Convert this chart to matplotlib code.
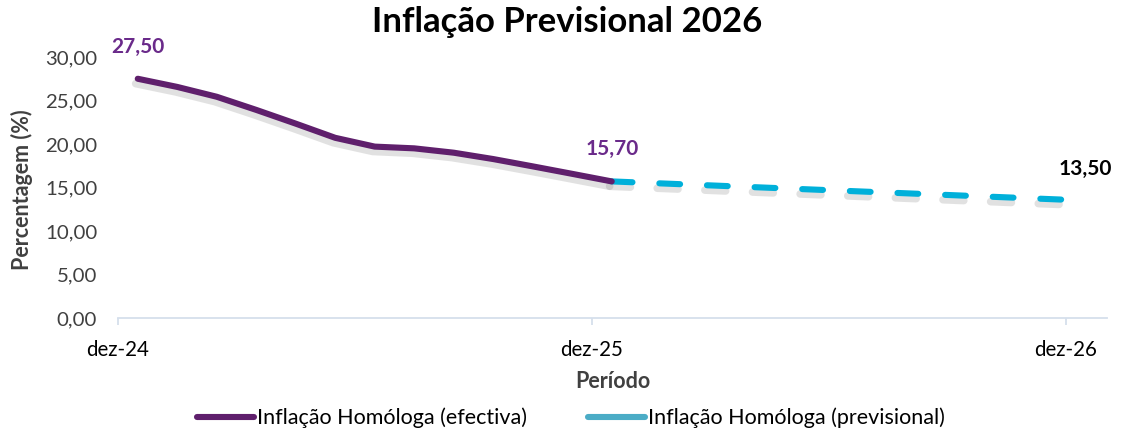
import matplotlib
matplotlib.use("Agg")
import matplotlib.pyplot as plt
import matplotlib.patheffects as pe

plt.rcParams['font.family'] = ['Lato', 'DejaVu Sans']

# Data (months since dez-24; points at mid-month positions)
tick_pos = [0, 12, 24]
tick_labels = ['dez-24', 'dez-25', 'dez-26']
eff_x = [0.5, 1.5, 2.5, 3.5, 4.5, 5.5, 6.5, 7.5, 8.5, 9.5, 10.5, 11.5, 12.5]
eff_y = [27.50, 26.56, 25.43, 23.92, 22.34, 20.71, 19.70, 19.50, 19.00, 18.27, 17.43, 16.57, 15.70]
prev_x = [12.5, 24.5]
prev_y = [15.70, 13.50]
yticks = [0, 5, 10, 15, 20, 25, 30]

purple = '#5F1F6C'
label_purple = '#6A2A8A'
cyan = '#00B0DA'
cyan_leg = '#4BACC6'

fig = plt.figure(figsize=(11.27, 4.34), dpi=100)
ax = fig.add_axes([118/1127, 1-318/434, (1107-118)/1127, (318-57)/434])

shadow = [pe.SimpleLineShadow(offset=(-1.5, -3.5), shadow_color='#7a7a7a', alpha=0.22, rho=1.0,
                              linewidth=5.5),
          pe.Normal()]

ax.plot(eff_x, eff_y, color=purple, lw=4.4, solid_capstyle='round', solid_joinstyle='round',
        path_effects=shadow, zorder=3, label='Inflação Homóloga (efectiva)')
ax.plot(prev_x, prev_y, color=cyan, lw=4.4, linestyle=(0, (3.4, 4.4)), dash_capstyle='round',
        path_effects=shadow, zorder=2, label='Inflação Homóloga (previsional)')

def lab(x, y, t, c):
    ax.annotate(t, (x, y), xytext=(0, 23), textcoords='offset points', ha='center', va='center',
                fontsize=15, fontweight='bold', color=c, annotation_clip=False)

lab(eff_x[0], eff_y[0], '27,50', label_purple)
lab(eff_x[-1], eff_y[-1], '15,70', label_purple)
lab(prev_x[-1], prev_y[-1], '13,50', 'black')

ax.set_xlim(0, 25.04)
ax.set_ylim(0, 30)
ax.set_yticks(yticks)
ax.set_yticklabels([f'{v:.2f}'.replace('.', ',') for v in yticks], fontsize=14.7, color='#404040')
ax.set_xticks(tick_pos)
ax.set_xticklabels(tick_labels, fontsize=14.8, color='black')
for s in ['top', 'right', 'left']:
    ax.spines[s].set_visible(False)
ax.spines['bottom'].set_color('#D5DFEC')
ax.spines['bottom'].set_linewidth(1.3)
ax.tick_params(axis='y', length=0, pad=15)
ax.tick_params(axis='x', length=5, width=1.3, color='#D5DFEC', pad=11)

ax.set_xlabel('Período', fontsize=15.5, fontweight='bold', color='#404040', labelpad=8)
fig.text(22/1127, 1-190/434, 'Percentagem (%)', rotation=90, fontsize=15.5, fontweight='bold',
         color='#404040', ha='center', va='center')

fig.text(567/1127, 1-22/434, 'Inflação Previsional 2026', fontsize=25, fontweight='bold',
         ha='center', va='center')

h1 = plt.Line2D([], [], color=purple, lw=4.4, solid_capstyle='round')
h2 = plt.Line2D([], [], color=cyan_leg, lw=4.4, solid_capstyle='round')
fig.legend([h1, h2], ['Inflação Homóloga (efectiva)', 'Inflação Homóloga (previsional)'],
           loc='center', bbox_to_anchor=(571/1127, 1-418/434), ncol=2, frameon=False,
           fontsize=15.5, handlelength=2.65, handletextpad=0.15, columnspacing=2.8)

fig.savefig('out.png', dpi=100)
